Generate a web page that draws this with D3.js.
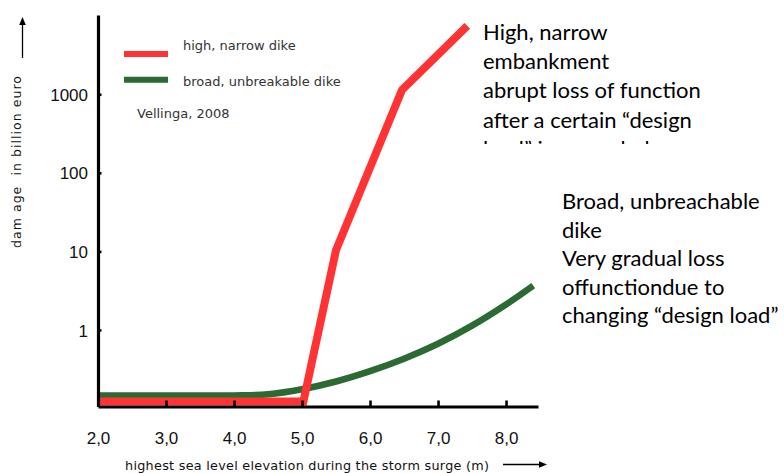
<!DOCTYPE html>
<html>
<head>
<meta charset="utf-8">
<script src="https://cdn.jsdelivr.net/npm/d3@7"></script>
<style>
  html, body { margin: 0; padding: 0; background: #fff; }
  svg { display: block; }
</style>
</head>
<body>
<div id="chart"></div>
<script>
// ---- data ----
const xTicks = [2, 3, 4, 5, 6, 7, 8];
const xTickLabels = ["2,0", "3,0", "4,0", "5,0", "6,0", "7,0", "8,0"];
const yTicks = [1, 10, 100, 1000];
const yTickLabels = ["1", "10", "100", "1000"];

// high, narrow dike (red)
const redX = [2.0, 5.02, 5.5, 6.47, 7.43];
const redY = [0.123, 0.123, 10.4, 1135, 7400];

// broad, unbreakable dike (green)
const greenX = [2.0, 3.0, 4.0, 4.5, 5.0, 5.5, 6.0, 6.5, 7.0, 7.5, 8.0, 8.4];
const greenY = [0.147, 0.147, 0.147, 0.152, 0.176, 0.221, 0.299, 0.431, 0.668, 1.135, 2.11, 3.67];

const legendLabels = ["high, narrow dike", "broad, unbreakable dike"];
const sourceLabel = "Vellinga, 2008";
const xTitle = "highest sea level elevation during the storm surge (m)";
const yTitle = "dam age  in billion euro";
const noteTop = ["High, narrow", "embankment", "abrupt loss of function", "after a certain \u201cdesign", "load\u201d is exceeded"];
const noteBottom = ["Broad, unbreachable", "dike", "Very gradual loss", "offunctiondue to", "changing \u201cdesign load\u201d"];

const RED = "#ff3333";
const GREEN = "#2b6a33";

// ---- chart ----
const W = 784, H = 473;
const svg = d3.select("#chart").append("svg").attr("width", W).attr("height", H);
svg.append("rect").attr("width", W).attr("height", H).attr("fill", "#fff");

const x = d3.scaleLinear().domain([2, 8.47]).range([98, 538]);
const y = d3.scaleLog().domain([Math.pow(10, -0.974), Math.pow(10, 4.009)]).range([406.5, 15]);

// green curve
svg.append("path")
  .datum(greenX.map((v, i) => [v, greenY[i]]))
  .attr("d", d3.line().x(d => x(d[0])).y(d => y(d[1])).curve(d3.curveCatmullRom))
  .attr("fill", "none").attr("stroke", GREEN).attr("stroke-width", 6.5);

// red curve
svg.append("path")
  .datum(redX.map((v, i) => [v, redY[i]]))
  .attr("d", d3.line().x(d => x(d[0])).y(d => y(d[1])))
  .attr("fill", "none").attr("stroke", RED).attr("stroke-width", 8)
  .attr("stroke-linejoin", "miter").attr("stroke-miterlimit", 10);

// axes
const tickFont = "'Liberation Sans', Arial, sans-serif";
const xAxis = svg.append("g").attr("transform", `translate(0,${y.range()[0]})`)
  .call(d3.axisBottom(x).tickValues(xTicks).tickFormat((d, i) => xTickLabels[i]).tickSize(-6).tickSizeOuter(0));
xAxis.select(".domain").attr("stroke", "#000").attr("stroke-width", 3.2);
xAxis.selectAll(".tick line").attr("stroke", "#000").attr("stroke-width", 2.6);
xAxis.selectAll(".tick text").attr("y", 37.5).attr("dy", null)
  .attr("font-family", tickFont).attr("font-size", 17).attr("fill", "#111");

const yAxis = svg.append("g").attr("transform", `translate(${x.range()[0]},0)`)
  .call(d3.axisLeft(y).tickValues(yTicks).tickFormat((d, i) => yTickLabels[i]).tickSize(-3.5).tickSizeOuter(0));
yAxis.select(".domain").attr("stroke", "#000").attr("stroke-width", 3.2);
yAxis.selectAll(".tick line").attr("stroke", "#000").attr("stroke-width", 2.6);
yAxis.selectAll(".tick text").attr("x", -10).attr("dy", "0.36em")
  .attr("font-family", tickFont).attr("font-size", 17).attr("fill", "#111");

// axis titles
const titleFont = "'DejaVu Sans', Verdana, sans-serif";
svg.append("text").attr("x", 125).attr("y", 469.5)
  .attr("font-family", titleFont).attr("font-size", 12.8).attr("fill", "#111")
  .attr("textLength", 364).attr("lengthAdjust", "spacing")
  .text(xTitle);
svg.append("text").attr("transform", "translate(21,248) rotate(-90)")
  .attr("font-family", titleFont).attr("font-size", 12.5).attr("fill", "#111")
  .attr("xml:space", "preserve").style("white-space", "pre")
  .attr("textLength", 172).attr("lengthAdjust", "spacing")
  .text(yTitle);

// arrows
svg.append("line").attr("x1", 503).attr("x2", 541).attr("y1", 464.5).attr("y2", 464.5)
  .attr("stroke", "#000").attr("stroke-width", 1.3);
svg.append("path").attr("d", "M547,464.5 L539,461.2 L539,467.8 Z").attr("fill", "#000");
svg.append("line").attr("x1", 22.5).attr("x2", 22.5).attr("y1", 58).attr("y2", 23)
  .attr("stroke", "#000").attr("stroke-width", 1.3);
svg.append("path").attr("d", "M22.5,17 L19.2,25 L25.8,25 Z").attr("fill", "#000");

// legend
const legFont = "'DejaVu Sans', Verdana, sans-serif";
const leg = [{c: RED, y: 54, ty: 50, t: legendLabels[0]}, {c: GREEN, y: 79.7, ty: 86, t: legendLabels[1]}];
leg.forEach(l => {
  svg.append("line").attr("x1", 124).attr("x2", 168).attr("y1", l.y).attr("y2", l.y)
    .attr("stroke", l.c).attr("stroke-width", 6);
  svg.append("text").attr("x", 183).attr("y", l.ty)
    .attr("font-family", legFont).attr("font-size", 13).attr("fill", "#333").text(l.t);
});
svg.append("text").attr("x", 137).attr("y", 118)
  .attr("font-family", legFont).attr("font-size", 13).attr("fill", "#333").text(sourceLabel);

// annotations
const noteFont = "Lato, 'Open Sans', sans-serif";
svg.append("clipPath").attr("id", "clipTop").append("rect")
  .attr("x", 470).attr("y", 0).attr("width", 314).attr("height", 144);
const gTop = svg.append("g").attr("clip-path", "url(#clipTop)");
noteTop.forEach((t, i) => {
  gTop.append("text").attr("x", 483).attr("y", 40 + i * 29.2)
    .attr("font-family", noteFont).attr("font-size", 22).attr("fill", "#000").text(t);
});
noteBottom.forEach((t, i) => {
  svg.append("text").attr("x", 562).attr("y", 209 + i * 28.5)
    .attr("font-family", noteFont).attr("font-size", 22).attr("fill", "#000").text(t);
});
</script>
</body>
</html>
